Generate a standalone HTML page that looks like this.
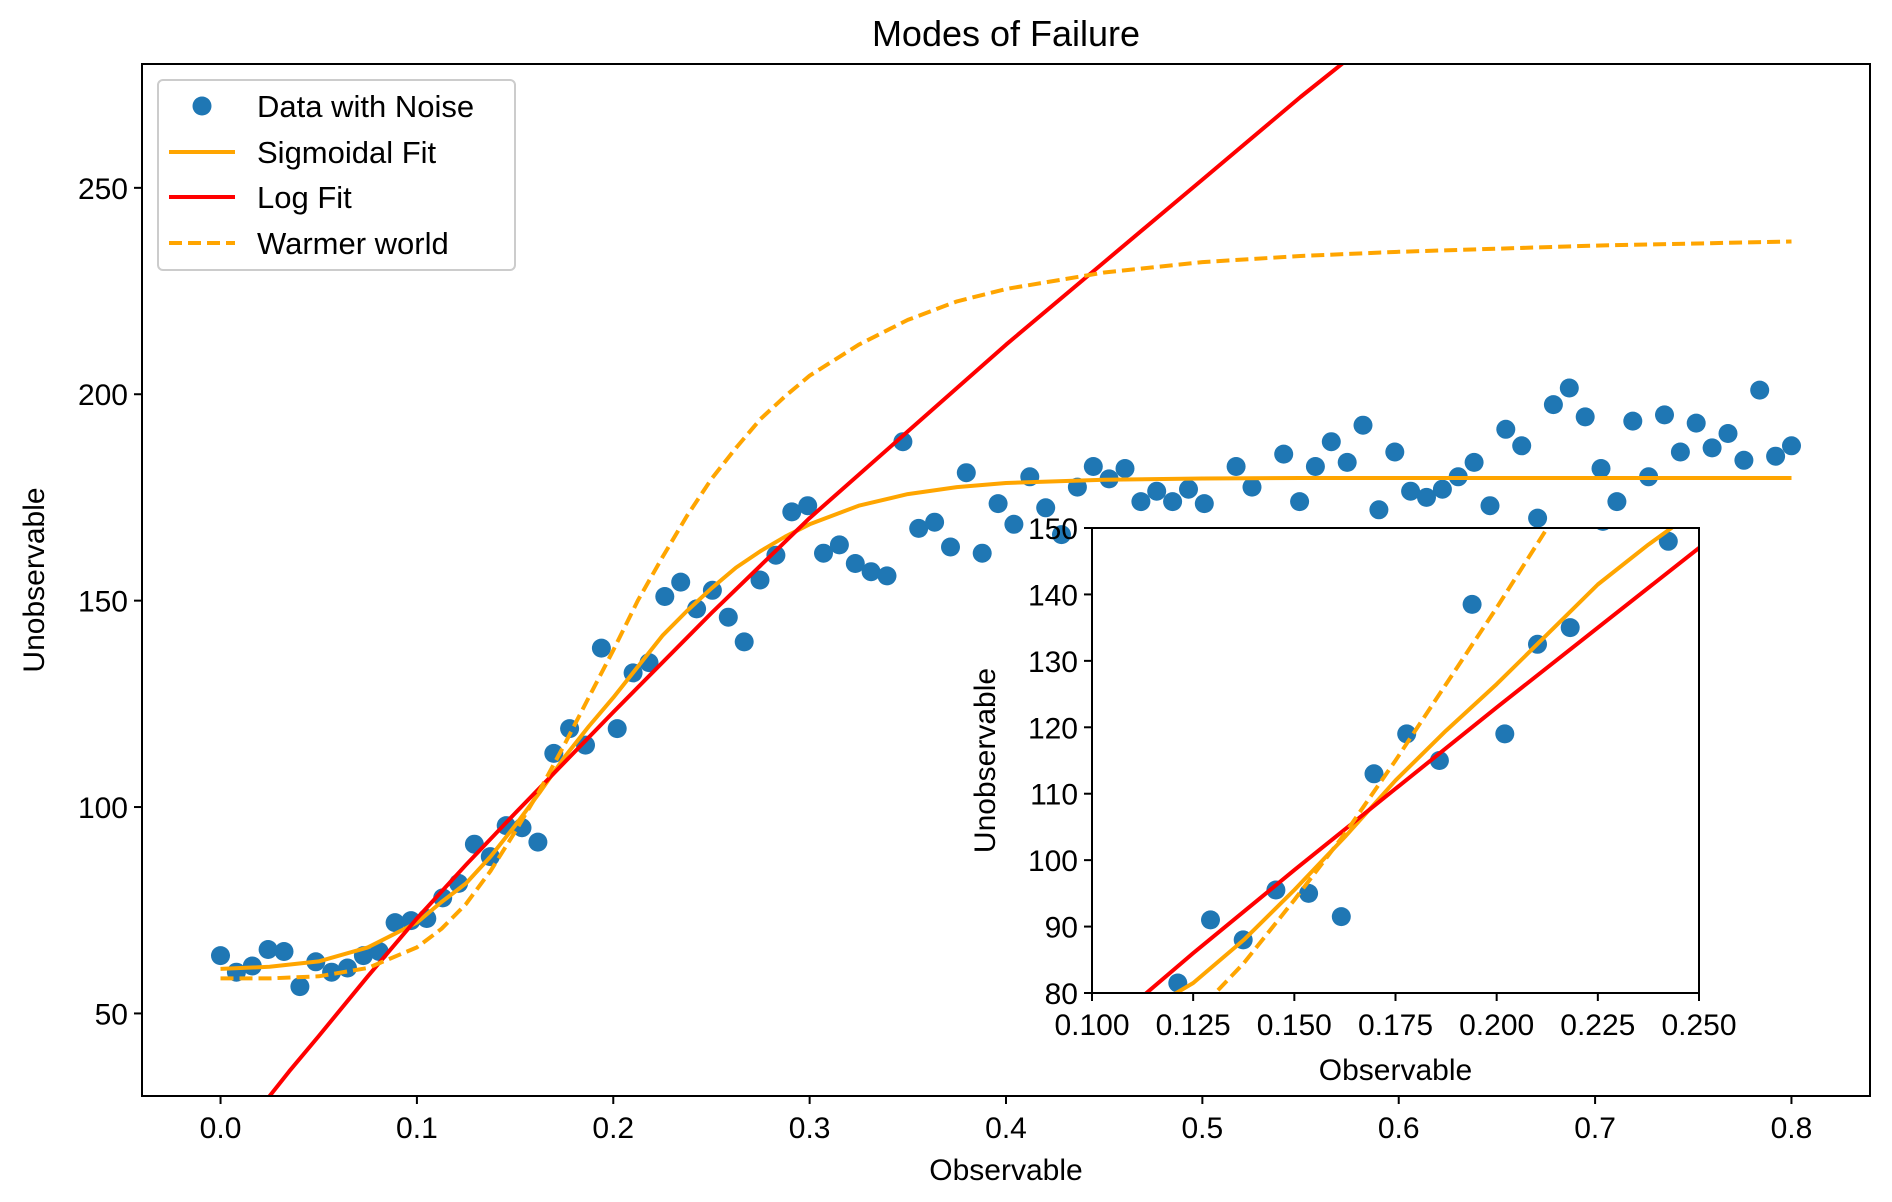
<!DOCTYPE html>
<html><head><meta charset="utf-8"><style>
html,body{margin:0;padding:0;background:#fff;overflow:hidden;width:1892px;height:1202px}
svg{display:block;font-family:"Liberation Sans","DejaVu Sans",sans-serif}
</style></head><body>
<svg id="chart" width="1892" height="1202" viewBox="0 0 1892 1202" xmlns="http://www.w3.org/2000/svg" overflow="hidden">
<defs>
<clipPath id="mainClip"><rect x="142" y="64" width="1728" height="1032"/></clipPath>
<clipPath id="insetClip"><rect x="1092" y="528" width="607" height="465"/></clipPath>
</defs>
<rect width="1892" height="1202" fill="#fff"/>
<text x="1006" y="46" font-size="36" text-anchor="middle">Modes of Failure</text>
<g id="main"></g>
<g id="legend">
<rect x="158" y="80" width="357" height="190" rx="5" fill="#fff" fill-opacity="0.8" stroke="#ccc" stroke-width="2"/>
<circle cx="202" cy="106" r="9.5" fill="#1f77b4"/>
<text x="257" y="117" font-size="31">Data with Noise</text>
<line x1="169" y1="152" x2="235" y2="152" stroke="orange" stroke-width="4"/>
<text x="257" y="163" font-size="31">Sigmoidal Fit</text>
<line x1="169" y1="197" x2="235" y2="197" stroke="red" stroke-width="4"/>
<text x="257" y="208" font-size="31">Log Fit</text>
<line x1="169" y1="243" x2="235" y2="243" stroke="orange" stroke-width="4" stroke-dasharray="13,6"/>
<text x="257" y="254" font-size="31">Warmer world</text>
</g>
<g id="inset"></g>
</svg>
<script>
const dataY = [64,60,61.5,65.5,65,56.5,62.5,60,61,64,65,72,72.5,73,78,81.5,91,88,95.5,95,91.5,113,119,115,138.5,119,132.5,135,151,154.5,148,152.5,146,140,155,161,171.5,173,161.5,163.5,159,157,156,188.5,167.5,169,163,181,161.5,173.5,168.5,180,172.5,166,177.5,182.5,179.5,182,174,176.5,174,177,173.5,148,182.5,177.5,149,185.5,174,182.5,188.5,183.5,192.5,172,186,176.5,175,177,180,183.5,173,191.5,187.5,170,197.5,201.5,194.5,182,174,193.5,180,195,186,193,187,190.5,184,201,185,187.5];
const fitX = [0,0.025,0.05,0.075,0.1,0.1125,0.125,0.1375,0.15,0.1625,0.175,0.1875,0.2,0.2125,0.225,0.2375,0.25,0.2625,0.275,0.2875,0.3,0.325,0.35,0.375,0.4,0.45,0.5,0.55,0.6,0.7,0.8];
const sigmoidY = [60.8,61.3,62.6,66,72,77,81.5,88,95.5,103.5,112,119.5,126.5,134,141.5,147.5,153,158,162,165.5,168.5,173,175.8,177.5,178.5,179.3,179.6,179.7,179.7,179.7,179.7];
const warmerY = [58.5,58.5,59,61,66,70.5,76.5,84.5,94,104,115,126.5,138,150,160.5,170.5,179.5,187,194,199.5,204.5,212,218,222.5,225.5,229.5,232,233.5,234.5,236,237];
const logX = [0.02,0.035,0.05,0.075,0.1,0.125,0.15,0.2,0.25,0.3,0.35,0.4,0.45,0.5,0.55,0.6];
const logY = [27,36,44.5,59,73,86,98.5,123,147,170,191,212,232,252,272,291];
const mainXTicks = [0,0.1,0.2,0.3,0.4,0.5,0.6,0.7,0.8];
const mainXTickLabels = ["0.0","0.1","0.2","0.3","0.4","0.5","0.6","0.7","0.8"];
const mainYTicks = [50,100,150,200,250];
const insetXTicks = [0.1,0.125,0.15,0.175,0.2,0.225,0.25];
const insetXTickLabels = ["0.100","0.125","0.150","0.175","0.200","0.225","0.250"];
const insetYTicks = [80,90,100,110,120,130,140,150];

const NS = "http://www.w3.org/2000/svg";
function mk(tag, attrs, parent){const e=document.createElementNS(NS,tag);for(const k in attrs)e.setAttribute(k,attrs[k]);parent.appendChild(e);return e;}
function dataX(i){return i*0.8/(dataY.length-1);}

function drawAxes(g, box, xlim, ylim, xt, xtl, yt, ytl, clipId, prefix, fs, xlabelY, ylabelX){
  const sx=v=>box.l+(v-xlim[0])/(xlim[1]-xlim[0])*(box.r-box.l);
  const sy=v=>box.b-(v-ylim[0])/(ylim[1]-ylim[0])*(box.b-box.t);
  const bg=mk('rect',{x:box.l,y:box.t,width:box.r-box.l,height:box.b-box.t,fill:'#fff'},g);
  
  
  const series=mk('g',{'clip-path':'url(#'+clipId+')'},g);
  function line(xs,ys,name,color,dash){
    let d='';xs.forEach((x,i)=>{d+=(i?'L':'M')+sx(x).toFixed(1)+','+sy(ys[i]).toFixed(1);});
    const p=mk('path',{d:d,fill:'none',stroke:color,'stroke-width':4,'stroke-linejoin':'round'},series);
    if(dash)p.setAttribute('stroke-dasharray','13,6');
    
    
  }
  dataY.forEach((v,i)=>{
    const c=mk('circle',{cx:sx(dataX(i)).toFixed(1),cy:sy(v).toFixed(1),r:9.5,fill:'#1f77b4'},series);
    
    
  });
  line(fitX,sigmoidY,'sigmoid-fit-line','orange',false);
  line(logX,logY,'log-fit-line','red',false);
  line(fitX,warmerY,'warmer-world-line','orange',true);
  const fr=mk('rect',{x:box.l,y:box.t,width:box.r-box.l,height:box.b-box.t,fill:'none',stroke:'#000','stroke-width':2},g);
  
  
  xt.forEach((v,i)=>{
    const x=sx(v);
    mk('line',{x1:x,y1:box.b,x2:x,y2:box.b+8,stroke:'#000','stroke-width':2},g);
    const t=mk('text',{x:x,y:box.b+42,'font-size':fs,'text-anchor':'middle'},g);
    t.textContent=xtl[i];
    
    
  });
  yt.forEach((v,i)=>{
    const y=sy(v);
    mk('line',{x1:box.l-8,y1:y,x2:box.l,y2:y,stroke:'#000','stroke-width':2},g);
    const t=mk('text',{x:box.l-14,y:y+11,'font-size':fs,'text-anchor':'end'},g);
    t.textContent=ytl[i];
    
    
  });
  const xl=mk('text',{x:(box.l+box.r)/2,y:xlabelY,'font-size':fs,'text-anchor':'middle'},g);
  xl.textContent='Observable';
  
  
  const cy=(box.t+box.b)/2;
  const yl=mk('text',{x:ylabelX,y:cy,'font-size':fs,'text-anchor':'middle',transform:'rotate(-90 '+ylabelX+' '+cy+')'},g);
  yl.textContent='Unobservable';
  
  
}
drawAxes(document.getElementById('main'),{l:142,r:1870,t:64,b:1096},[-0.04,0.84],[30,280],
  mainXTicks,mainXTickLabels,mainYTicks,mainYTicks.map(String),'mainClip','main',30,1180,44);
drawAxes(document.getElementById('inset'),{l:1092,r:1699,t:528,b:993},[0.1,0.25],[80,150],
  insetXTicks,insetXTickLabels,insetYTicks,insetYTicks.map(String),'insetClip','inset',30,1080,995);
document.getElementById('chart').insertBefore(document.getElementById('legend'),document.getElementById('inset'));
</script>
</body></html>
